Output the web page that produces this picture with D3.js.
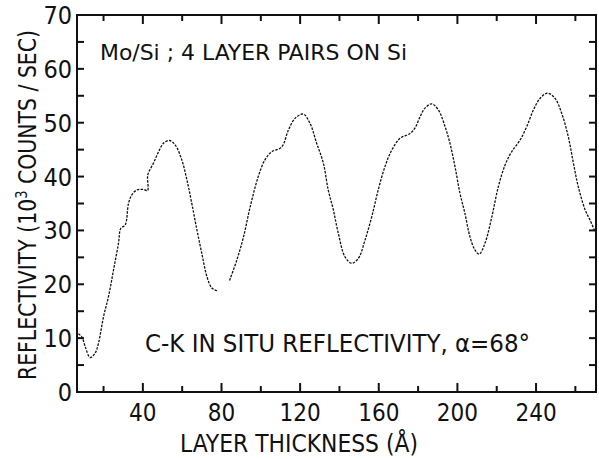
<!DOCTYPE html>
<html>
<head>
<meta charset="utf-8">
<script src="https://cdn.jsdelivr.net/npm/d3@7"></script>
<style>
  body { margin: 0; background: #fff; }
  text { font-family: "Liberation Sans Narrow", "DejaVu Sans Condensed", sans-serif; fill: #111; }
</style>
</head>
<body>
<svg id="chart" width="599" height="459"></svg>
<script>
// layer thickness (A), null = gap in the trace
const thickness = [7.2, 9.0, 10.7, 13.2, 15.7, 17.4, 20.0, 22.5, 25.1, 27.6, 28.8, 31.0, 32.7, 34.4, 36.9, 40.3, 42.4,
  42.5, 45.4, 48.0, 50.5, 53.6, 56.4, 59.8, 62.4, 64.9, 67.5, 70.0, 72.6, 75.1, 77.7,
  null,
  84.1, 87.8, 91.2, 94.6, 98.7, 102.1, 105.5, 110.6, 114.0, 117.4, 121.6, 125.0, 128.4, 131.8, 134.3, 136.9, 139.4,
  142.8, 146.2, 149.6, 153.0, 156.4, 159.7, 163.1, 166.6, 170.8, 175.9, 178.4, 181.0, 183.5, 186.9, 190.3, 193.7,
  196.2, 198.8, 201.3, 203.8, 206.4, 208.9, 211.1, 214.0, 217.5, 220.8, 224.2, 227.6, 231.9, 235.3, 238.7, 242.0,
  245.9, 249.7, 253.1, 256.4, 259.0, 261.5, 265.0, 267.5, 270.0]
// reflectivity (10^3 counts/sec)
const reflectivity = [10.8, 10.2, 8.4, 6.4, 7.2, 9.0, 14.0, 17.7, 22.7, 27.6, 30.4, 31.0, 35.0, 36.6, 37.5, 37.6, 37.4,
  40.3, 42.5, 44.6, 46.2, 46.7, 45.9, 43.1, 39.4, 35.0, 30.1, 25.7, 21.4, 19.3, 18.8,
  null,
  20.7, 24.5, 28.8, 34.4, 40.0, 43.1, 44.6, 45.5, 48.6, 50.8, 51.6, 49.9, 46.2, 42.5, 37.5, 33.8, 29.5,
  25.1, 23.9, 24.8, 28.2, 32.5, 37.5, 41.8, 44.9, 47.1, 48.0, 49.0, 51.1, 52.7, 53.5, 52.4, 49.3,
  46.2, 41.8, 36.9, 33.2, 28.8, 26.4, 25.6, 27.6, 32.5, 38.1, 42.1, 44.6, 46.8, 49.3, 52.4, 54.5,
  55.5, 54.5, 51.7, 47.4, 42.5, 38.1, 33.8, 31.9, 29.8]

const xTickLabels = [40, 80, 120, 160, 200, 240]
const yTickLabels = [0, 10, 20, 30, 40, 50, 60, 70]

const svg = d3.select('#chart')
const pLeft = 77, pRight = 596, pTop = 15, pBottom = 392

const x = d3.scaleLinear().domain([6.5, 270.5]).range([pLeft, pRight])
const y = d3.scaleLinear().domain([0, 70]).range([pBottom, pTop])

const pts = thickness.map((t, i) => ({t: t, r: reflectivity[i]}))

// the trace
const line = d3.line()
  .defined(d => d.t !== null)
  .x(d => x(d.t))
  .y(d => y(d.r))
  .curve(d3.curveCatmullRom)

svg.append('path')
  .datum(pts)
  .attr('d', line)
  .attr('fill', 'none')
  .attr('stroke', '#111')
  .attr('stroke-width', 1.3)
  .attr('stroke-dasharray', '2.5 1.3')

// frame
svg.append('rect')
  .attr('x', pLeft).attr('y', pTop)
  .attr('width', pRight - pLeft).attr('height', pBottom - pTop)
  .attr('fill', 'none').attr('stroke', '#111').attr('stroke-width', 2)

// inward ticks
const xMajor = d3.range(40, 261, 40), xMinor = d3.range(20, 261, 40)
const yAll = d3.range(5, 70, 5)

const tk = svg.append('g').attr('stroke', '#111').attr('stroke-width', 2)
xMajor.forEach(v => {
  tk.append('line').attr('x1', x(v)).attr('x2', x(v)).attr('y1', pBottom).attr('y2', pBottom - 9)
  tk.append('line').attr('x1', x(v)).attr('x2', x(v)).attr('y1', pTop).attr('y2', pTop + 9)
})
xMinor.forEach(v => {
  tk.append('line').attr('x1', x(v)).attr('x2', x(v)).attr('y1', pBottom).attr('y2', pBottom - 6)
  tk.append('line').attr('x1', x(v)).attr('x2', x(v)).attr('y1', pTop).attr('y2', pTop + 6)
})
yAll.forEach(v => {
  tk.append('line').attr('x1', pLeft).attr('x2', pLeft + 7).attr('y1', y(v)).attr('y2', y(v))
  tk.append('line').attr('x1', pRight).attr('x2', pRight - 7).attr('y1', y(v)).attr('y2', y(v))
})

// tick labels
svg.append('g').selectAll('text')
  .data(yTickLabels).enter().append('text')
  .attr('x', pLeft - 5).attr('y', d => y(d))
  .attr('dy', '0.36em')
  .attr('text-anchor', 'end')
  .attr('font-size', 25)
  .text(d => d)

svg.append('g').selectAll('text')
  .data(xTickLabels).enter().append('text')
  .attr('x', d => x(d)).attr('y', 421)
  .attr('text-anchor', 'middle')
  .attr('font-size', 24)
  .text(d => d)

// axis titles
svg.append('text')
  .attr('x', 180).attr('y', 452)
  .attr('font-size', 25)
  .attr('textLength', 238).attr('lengthAdjust', 'spacingAndGlyphs')
  .text('LAYER THICKNESS (Å)')

const yl = svg.append('text')
  .attr('transform', 'translate(36,380) rotate(-90)')
  .attr('font-size', 25)
  .attr('textLength', 350).attr('lengthAdjust', 'spacingAndGlyphs')
yl.append('tspan').text('REFLECTIVITY (10')
yl.append('tspan').attr('dy', -9).attr('font-size', 16).text('3')
yl.append('tspan').attr('dy', 9).text(' COUNTS / SEC)')

// annotations
svg.append('text')
  .attr('x', 100).attr('y', 60)
  .attr('font-size', 22)
  .attr('textLength', 307).attr('lengthAdjust', 'spacingAndGlyphs')
  .text('Mo/Si ; 4 LAYER PAIRS ON Si')

svg.append('text')
  .attr('x', 145).attr('y', 352)
  .attr('font-size', 25)
  .attr('textLength', 385).attr('lengthAdjust', 'spacingAndGlyphs')
  .text('C-K IN SITU REFLECTIVITY, α=68°')
</script>
</body>
</html>
